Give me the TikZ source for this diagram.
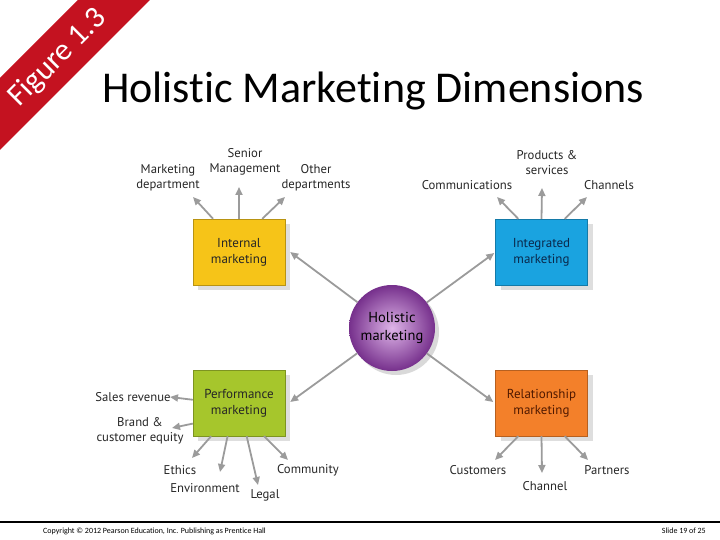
\documentclass[tikz,border=0pt]{standalone}
\usepackage{fontspec}
\setmainfont{Carlito}[Ligatures=NoCommon]
\newfontfamily\labelfont{PT Sans}
\usetikzlibrary{positioning,arrows.meta,shadows}
\usepackage{xcolor}
\definecolor{bannerred}{RGB}{196,18,32}
\definecolor{intyellow}{RGB}{246,196,24}
\definecolor{itgblue}{RGB}{26,163,224}
\definecolor{prfgreen}{RGB}{166,198,44}
\definecolor{relorange}{RGB}{243,128,42}
\definecolor{linkgray}{RGB}{155,155,155}

\begin{document}
\begin{tikzpicture}[x=1pt,y=-1pt,%
		   dimbox/.style={draw=#1!75!black,fill=#1,minimum width=92pt,minimum height=66pt,inner sep=2pt,
		      align=center,font=\labelfont\fontsize{13}{16}\selectfont,
		      drop shadow={shadow xshift=5pt,shadow yshift=-5pt,fill=black!13,opacity=1}},
		   tag/.style={align=center,inner sep=1pt,text=black!85,font=\labelfont\fontsize{12.7}{15}\selectfont},
		   link/.style={-{Triangle[length=8pt,width=7pt]},line width=1.8pt,linkgray}]

	\useasboundingbox (0,0) rectangle (720,540);

	% corner banner and title
	\fill[bannerred] (0,78) -- (78,0) -- (150,0) -- (0,150) -- cycle;
	\node[rotate=45,text=white,font=\fontsize{31}{37}\selectfont] (fig) at (58,58) {Figure 1.3};
	\node[font=\fontsize{44}{52}\selectfont] (title) at (373,91) {Holistic Marketing Dimensions};

	% the four dimensions and the centre
	\node[dimbox=intyellow,text=black!85] (int) at (239,252) {Internal\\marketing};
	\node[dimbox=itgblue,text={rgb,255:red,10;green,40;blue,75}] (itg) at (541.5,252) {Integrated\\marketing};
	\node[dimbox=prfgreen,text=black!85] (prf) at (239,403) {Performance\\marketing};
	\node[dimbox=relorange,text={rgb,255:red,80;green,25;blue,0}] (rel) at (541.5,403) {Relationship\\marketing};
	\node[circle,minimum size=86pt,align=center,shading=radial,
	      inner color={rgb,255:red,222;green,180;blue,232},outer color={rgb,255:red,118;green,48;blue,140},
	      drop shadow={shadow xshift=4pt,shadow yshift=-4pt,fill=black!15,opacity=1},
	      font=\labelfont\fontsize{14.5}{18}\selectfont] (hol) at (392,328) {Holistic\\marketing};

	% outer labels
	\foreach \name/\x/\y/\txt in {%
	   mkt/168/178/Marketing\\department,
	   sen/245/162/Senior\\Management,
	   oth/316/178/Other\\departments,
	   com/467/185/Communications,
	   pro/547/163/Products \&\\services,
	   cha/609/185/Channels,
	   sal/133/397/Sales revenue,
	   bra/140/431/Brand \&\\customer equity,
	   eth/180/470/Ethics,
	   env/205/488/Environment,
	   leg/265/495/Legal,
	   cmy/308/470/Community,
	   cus/478/470/Customers,
	   chn/545/486/Channel,
	   par/607/470/Partners%
	   } { \node[tag] (\name) at (\x,\y) {\txt}; }

	% arrows from the centre
	\draw[link] (hol) -- ([xshift=5pt]int.east);
	\draw[link] (hol) -- ([xshift=-1pt,yshift=-1pt]itg.west);
	\draw[link] (hol) -- ([xshift=5pt,yshift=1pt]prf.east);
	\draw[link] (hol) -- ([xshift=-2pt,yshift=1pt]rel.west);

	% arrows out of each box
	\foreach \src/\x/\y [count=\i] in {%
	   int.128/193/197, int.north/239/187, int.55/285/197,
	   itg.125/497/197, itg.north/542/188, itg.55/587/197,
	   prf.176/170/397, prf.204/172/428, prf.230/192/458,
	   prf.251/220/472, prf.283/258/485, prf.307/288/460,
	   rel.235/495/460, rel.south/542/473, rel.305/588/460%
	   } { \coordinate (tip-\i) at (\x,\y);
	       \draw[link] (\src) -- (tip-\i); }

	% footer
	\draw[line width=1.2pt] (0,522) -- (720,522);
	\node[anchor=west,inner sep=0pt,font=\fontsize{8}{10}\selectfont] (copy) at (43,531)
	   {Copyright \textcopyright{} 2012 Pearson Education, Inc. Publishing as Prentice Hall};
	\node[anchor=east,inner sep=0pt,font=\fontsize{8}{10}\selectfont] (slide) at (706,531) {Slide 19 of 25};

\end{tikzpicture}
\end{document}
